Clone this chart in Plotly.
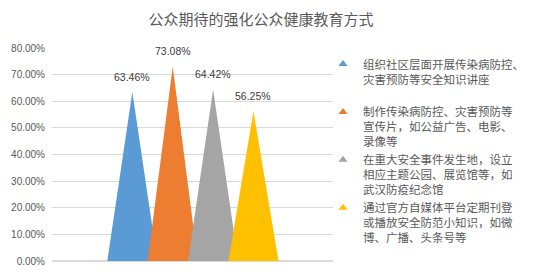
import plotly.graph_objects as go

title = "公众期待的强化公众健康教育方式"
series = [
    "组织社区层面开展传染病防控、<br>灾害预防等安全知识讲座<br> ",
    "制作传染病防控、灾害预防等<br>宣传片，如公益广告、电影、<br>录像等",
    "在重大安全事件发生地，设立<br>相应主题公园、展览馆等，如<br>武汉防疫纪念馆",
    "通过官方自媒体平台定期刊登<br>或播放安全防范小知识，如微<br>博、广播、头条号等",
]
values = [0.6346, 0.7308, 0.6442, 0.5625]
labels = ["63.46%", "73.08%", "64.42%", "56.25%"]
colors = ["#5B9BD5", "#ED7D31", "#A5A5A5", "#FFC000"]
yticks = [0, 0.1, 0.2, 0.3, 0.4, 0.5, 0.6, 0.7, 0.8]

half = 0.62
fig = go.Figure()
for i, (v, c) in enumerate(zip(values, colors)):
    fig.add_trace(go.Scatter(
        x=[i - half, i, i + half, i - half], y=[0, v, 0, 0],
        fill="toself", fillcolor=c, mode="lines", line=dict(width=0, color=c),
        showlegend=False, hoverinfo="skip"))
for i, (name, c) in enumerate(zip(series, colors)):
    fig.add_trace(go.Scatter(
        x=[None], y=[None], mode="markers", name=name,
        marker=dict(symbol="triangle-up", size=8, color=c)))
for i, (v, t) in enumerate(zip(values, labels)):
    fig.add_annotation(x=i, y=v, text=t, showarrow=False, yshift=15,
                       font=dict(size=10.5, color="#404040", family="Liberation Sans"))

fig.update_layout(
    width=535, height=276,
    margin=dict(l=52, r=202, t=48, b=15, autoexpand=False),
    paper_bgcolor="white", plot_bgcolor="white",
    title=dict(text=title, x=261/535, xref="container", xanchor="center",
               y=1 - 20/276, yanchor="middle",
               font=dict(size=15, color="#595959", family="Noto Sans CJK SC")),
    xaxis=dict(range=[-1.99, 4.97], showticklabels=False, showgrid=False,
               zeroline=False, showline=False, fixedrange=True),
    yaxis=dict(range=[0, 0.8], tickvals=yticks, tickformat=".2%",
               showgrid=True, gridcolor="#D9D9D9", gridwidth=1,
               zeroline=True, zerolinecolor="#D9D9D9", ticks="",
               tickfont=dict(size=10, color="#595959", family="Liberation Sans"),
               ticklabelstandoff=6),
    legend=dict(xref="container", x=323 / 535, xanchor="left",
                y=0.99, yanchor="top",
                valign="top", tracegroupgap=0,
                font=dict(size=11.5, color="#595959", family="Noto Sans CJK SC"),
                bgcolor="rgba(0,0,0,0)"),
    showlegend=True,
)
fig.write_html("out.html")
